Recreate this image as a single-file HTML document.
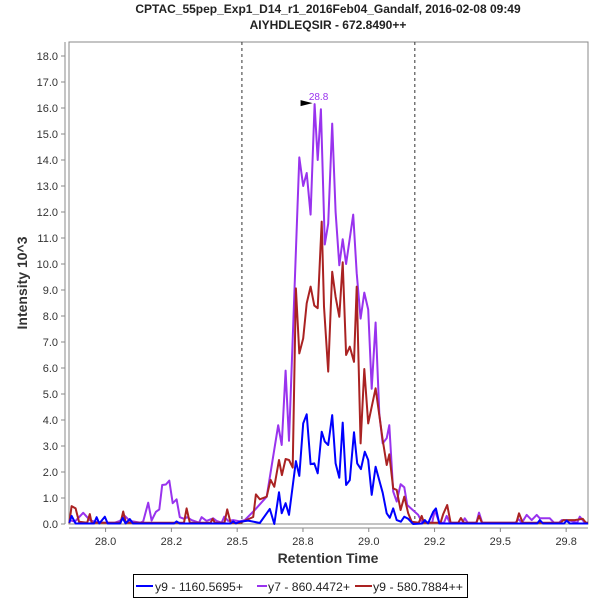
<!DOCTYPE html>
<html><head><meta charset="utf-8"><style>
body{margin:0;background:#fff;width:600px;height:600px;overflow:hidden;font-family:"Liberation Sans",sans-serif}
svg text{font-family:"Liberation Sans",sans-serif}
</style></head><body>
<svg id="chart" width="600" height="600" xmlns="http://www.w3.org/2000/svg">
<rect width="600" height="600" fill="#fff"/>
<text x="328" y="13" text-anchor="middle" font-size="12" font-weight="bold" fill="#222">CPTAC_55pep_Exp1_D14_r1_2016Feb04_Gandalf, 2016-02-08 09:49</text>
<text x="328" y="29" text-anchor="middle" font-size="12" font-weight="bold" fill="#222">AIYHDLEQSIR - 672.8490++</text>
<rect x="69" y="42" width="519" height="482" fill="#fff" stroke="#888" stroke-width="1"/>
<line x1="65" y1="42" x2="65" y2="524" stroke="#888"/>
<line x1="69" y1="528" x2="588" y2="528" stroke="#888"/>
<g id="yticks"></g><g id="xticks"></g>
<g id="series"></g>
<text transform="translate(27,283) rotate(-90)" text-anchor="middle" font-size="14" font-weight="bold" fill="#333">Intensity 10^3</text>
<text x="328" y="563" text-anchor="middle" font-size="14" font-weight="bold" fill="#333">Retention Time</text>
<g>
<rect x="133.5" y="574.5" width="334" height="23" fill="#fff" stroke="#000"/>
<g><line x1="136" y1="586" x2="153" y2="586" stroke="#0000ff" stroke-width="2"/><text x="155" y="591" font-size="12" fill="#222" textLength="88" lengthAdjust="spacingAndGlyphs">y9 - 1160.5695+</text></g>
<g><line x1="257" y1="586" x2="267" y2="586" stroke="#9933ee" stroke-width="2"/><text x="268" y="591" font-size="12" fill="#222" textLength="82" lengthAdjust="spacingAndGlyphs">y7 - 860.4472+</text></g>
<g><line x1="355" y1="586" x2="372" y2="586" stroke="#aa2222" stroke-width="2"/><text x="373" y="591" font-size="12" fill="#222" textLength="90" lengthAdjust="spacingAndGlyphs">y9 - 580.7884++</text></g>
</g>
</svg>
<script>
const yTickValues=[0,1,2,3,4,5,6,7,8,9,10,11,12,13,14,15,16,17,18];
const xTickValues=[28.0,28.25,28.5,28.75,29.0,29.25,29.5,29.75];
const xTickLabels=["28.0","28.2","28.5","28.8","29.0","29.2","29.5","29.8"];
const boundaryTimes=[28.518,29.175];
const peakTime=28.794, peakValue=16.15, peakLabel="28.8";
const y7Times=[27.862,27.883,27.915,27.940,27.959,27.997,28.035,28.054,28.073,28.092,28.133,28.143,28.162,28.175,28.191,28.204,28.215,28.229,28.242,28.255,28.270,28.282,28.298,28.310,28.327,28.355,28.365,28.384,28.409,28.422,28.441,28.451,28.466,28.485,28.510,28.529,28.567,28.612,28.656,28.669,28.684,28.697,28.723,28.736,28.751,28.764,28.779,28.794,28.806,28.818,28.833,28.846,28.861,28.874,28.888,28.901,28.914,28.941,28.954,28.969,28.983,28.998,29.011,29.026,29.040,29.053,29.068,29.078,29.093,29.106,29.121,29.135,29.146,29.188,29.201,29.241,29.251,29.268,29.286,29.296,29.308,29.355,29.365,29.376,29.409,29.419,29.431,29.558,29.568,29.582,29.600,29.619,29.638,29.650,29.688,29.704,29.723,29.733,29.764,29.792,29.802,29.821,29.833];
const y7Values=[0.15,0.09,0.43,0.15,0.09,0.05,0.05,0.12,0.31,0.12,0.05,0.1,0.82,0.13,0.47,0.56,1.5,1.52,1.67,0.8,0.95,0.26,0.2,0.26,0.15,0.05,0.26,0.12,0.22,0.12,0.05,0.28,0.12,0.15,0.1,0.15,0.54,1.05,3.8,3.04,5.9,3.2,10.5,14.1,13.0,13.5,11.9,16.15,14.0,15.95,10.75,11.55,15.4,12.0,9.95,10.95,10.0,11.9,9.65,7.9,8.9,8.25,5.2,7.75,4.25,3.1,3.3,3.8,1.25,0.86,1.53,1.41,0.73,0.35,0.09,0.05,0.54,0.05,0.05,0.31,0.05,0.05,0.22,0.05,0.05,0.44,0.05,0.05,0.19,0.05,0.35,0.15,0.35,0.22,0.22,0.05,0.05,0.15,0.13,0.05,0.28,0.05,0.05];
const y9bTimes=[27.862,27.871,27.886,27.899,27.930,27.940,27.947,28.057,28.067,28.077,28.298,28.308,28.320,28.399,28.407,28.415,28.452,28.462,28.475,28.510,28.561,28.571,28.586,28.612,28.627,28.641,28.659,28.670,28.684,28.697,28.711,28.723,28.736,28.751,28.764,28.779,28.793,28.806,28.821,28.830,28.846,28.861,28.874,28.888,28.901,28.914,28.928,28.944,28.954,28.969,28.983,28.998,29.026,29.053,29.068,29.078,29.093,29.106,29.121,29.135,29.150,29.163,29.190,29.201,29.210,29.273,29.283,29.298,29.311,29.340,29.350,29.361,29.409,29.419,29.430,29.561,29.571,29.585,29.729,29.739,29.783,29.813,29.825,29.833];
const y9bValues=[0.03,0.69,0.6,0.09,0.05,0.38,0.05,0.05,0.48,0.05,0.05,0.6,0.05,0.05,0.2,0.05,0.05,0.56,0.05,0.04,0.27,1.14,0.95,1.05,1.7,1.43,2.46,1.88,2.5,2.46,2.17,9.06,6.56,7.14,8.49,9.13,8.4,8.3,11.63,8.36,5.86,9.7,8.74,7.97,10.07,6.5,6.82,6.24,9.13,3.1,5.96,3.87,5.22,3.23,2.27,2.68,1.37,1.31,0.54,1.05,0.41,0.09,0.05,0.31,0.05,0.05,0.38,0.73,0.05,0.05,0.23,0.05,0.05,0.31,0.05,0.05,0.41,0.05,0.05,0.15,0.15,0.2,0.05,0.05];
const y9Times=[27.862,27.871,27.886,27.956,27.966,27.976,27.997,28.008,28.055,28.065,28.076,28.092,28.104,28.260,28.270,28.282,28.475,28.485,28.495,28.510,28.542,28.586,28.624,28.641,28.659,28.669,28.684,28.697,28.723,28.736,28.751,28.764,28.779,28.793,28.806,28.821,28.833,28.846,28.861,28.874,28.888,28.901,28.914,28.928,28.944,28.956,28.970,28.985,28.998,29.011,29.026,29.053,29.068,29.080,29.093,29.106,29.122,29.135,29.150,29.169,29.203,29.213,29.225,29.245,29.255,29.268,29.640,29.650,29.662,29.742,29.752,29.764,29.833];
const y9Values=[0.05,0.31,0.02,0.02,0.26,0.02,0.28,0.02,0.02,0.23,0.02,0.19,0.02,0.02,0.1,0.02,0.02,0.1,0.02,0.09,0.13,0.04,0.58,0.0,1.22,0.41,0.8,0.35,2.42,1.85,3.87,4.22,2.3,2.33,1.95,3.55,3.17,3.04,4.19,2.33,1.78,3.9,1.5,1.69,3.53,2.33,2.11,2.78,2.46,1.12,2.2,1.2,0.41,0.24,0.6,0.15,0.09,0.28,0.2,0.0,0.02,0.15,0.02,0.47,0.6,0.02,0.02,0.15,0.02,0.02,0.13,0.02,0.02];

const NS="http://www.w3.org/2000/svg";
const X0=69,X1=588,T0=27.861,T1=29.833,Y0=524,PXU=26;
function sx(t){return X0+(t-T0)/(T1-T0)*(X1-X0);}
function sy(v){return Y0-v*PXU;}
function mk(tag,attrs,parent){const e=document.createElementNS(NS,tag);for(const k in attrs)e.setAttribute(k,attrs[k]);parent.appendChild(e);return e;}
const yg=document.getElementById('yticks');
yTickValues.forEach(v=>{
  const l=mk('line',{x1:61,x2:65,y1:sy(v),y2:sy(v),stroke:'#888'},yg);
  
  
  const t=mk('text',{x:58,y:sy(v)+4,'text-anchor':'end','font-size':11,fill:'#333'},yg);
  
  
  t.textContent=v.toFixed(1);
});
const xg=document.getElementById('xticks');
xTickValues.forEach((v,i)=>{
  const l=mk('line',{x1:sx(v),x2:sx(v),y1:528,y2:532,stroke:'#888'},xg);
  
  
  const t=mk('text',{x:sx(v),y:545,'text-anchor':'middle','font-size':11,fill:'#333'},xg);
  
  
  t.textContent=xTickLabels[i];
});
const sg=document.getElementById('series');
boundaryTimes.forEach(b=>{
  const l=mk('line',{x1:sx(b),x2:sx(b),y1:42,y2:524,stroke:'#333','stroke-dasharray':'3,3'},sg);
  
  
});
function line(ts,vs,color,name){
  const p=mk('polyline',{points:ts.map((t,i)=>sx(t).toFixed(1)+','+sy(vs[i]).toFixed(1)).join(' '),fill:'none',stroke:color,'stroke-width':2,'stroke-linejoin':'round'},sg);
  
  
}
line(y7Times,y7Values,'#9933ee','series-y7-860');
line(y9bTimes,y9bValues,'#aa2222','series-y9-580');
line(y9Times,y9Values,'#0000ff','series-y9-1160');
const px=sx(peakTime),py=sy(peakValue);
const ar=mk('polygon',{points:(px-14)+','+(py-4)+' '+(px-2)+','+(py-1)+' '+(px-14)+','+(py+2),fill:'#000'},sg);


const pl=mk('text',{x:px+4,y:py-4,'text-anchor':'middle','font-size':10,fill:'#9933ee'},sg);


pl.textContent=peakLabel;
</script>
</body></html>
